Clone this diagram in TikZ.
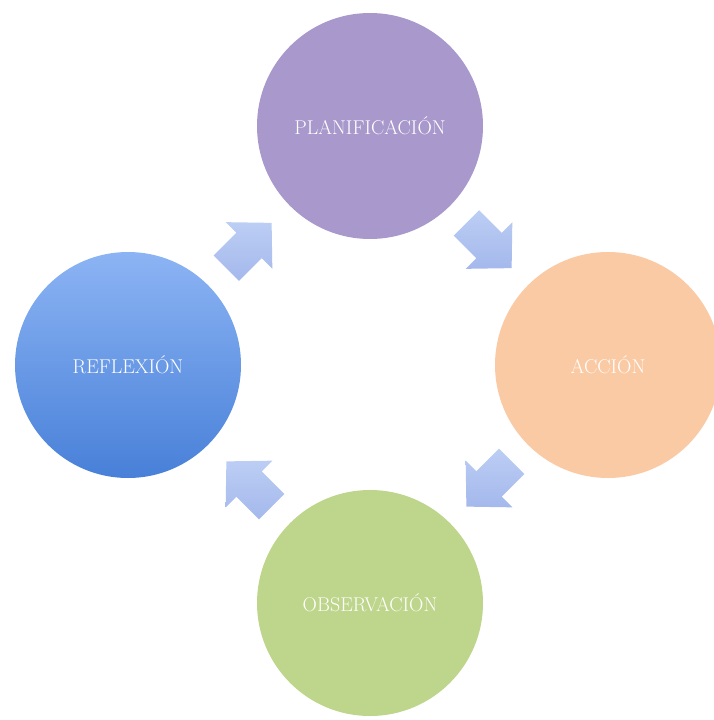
\documentclass[tikz,border=0pt]{standalone}
\usepackage{fontspec}
\usetikzlibrary{calc}
\definecolor{plancol}{RGB}{168,152,204}
\definecolor{acccol}{RGB}{250,202,165}
\definecolor{obscol}{RGB}{190,213,140}
\definecolor{reftop}{RGB}{140,180,244}
\definecolor{refbot}{RGB}{72,128,216}
\definecolor{arrtop}{RGB}{188,206,244}
\definecolor{arrbot}{RGB}{164,184,236}
\tikzset{
  phase/.style={circle, minimum size=226bp, inner sep=0pt, text=white,
    font=\fontsize{20}{24}\selectfont},
  cyclearrow/.style={top color=arrtop, bottom color=arrbot, draw=none}
}
\begin{document}
\begin{tikzpicture}[x=1bp,y=-1bp]
\useasboundingbox (0,0) rectangle (714,720);
\node[phase, fill=plancol] (plan) at (370,126) {PLANIFICACIÓN};
\node[phase, fill=acccol] (acc) at (608,365) {ACCIÓN};
\node[phase, fill=obscol] (obs) at (370,603) {OBSERVACIÓN};
\node[phase, top color=reftop, bottom color=refbot] (refl) at (128,365) {REFLEXIÓN};
\foreach \from/\to/\ang/\nm in {refl/plan/45/a1, plan/acc/-45/a2, acc/obs/-135/a3, obs/refl/135/a4}{
  \coordinate (\nm) at ($(\from)!0.5!(\to)$);
  \shade[cyclearrow, shift={(\nm)}, rotate=\ang]
    (-32,-18) -- (0,-18) -- (0,-33) -- (32,0) -- (0,33) -- (0,18) -- (-32,18) -- cycle;
}
\end{tikzpicture}
\end{document}
